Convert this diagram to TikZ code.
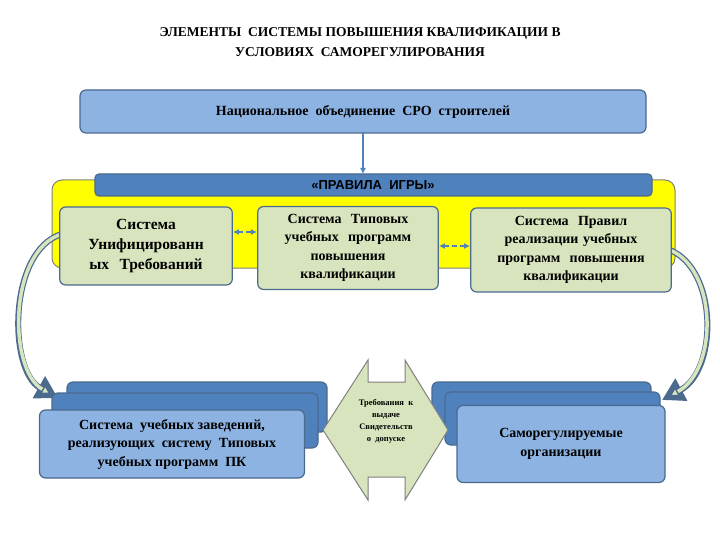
\documentclass[tikz,border=0pt]{standalone}
\usepackage{fontspec}
\setmainfont{Liberation Serif}
\newfontfamily\sansf{Liberation Sans}
\usetikzlibrary{arrows.meta}
\definecolor{lblue}{HTML}{8DB3E2}
\definecolor{dblue}{HTML}{4F81BD}
\definecolor{bord}{HTML}{4A6A8E}
\definecolor{gfill}{HTML}{D7E4BD}
\definecolor{yel}{HTML}{FFFF00}
\tikzset{
 gbox/.style={draw=bord,line width=1.2pt,fill=gfill,rounded corners=6pt,align=center,font=\bfseries\fontsize{14}{18.5}\selectfont},
 bbox/.style={draw=bord,line width=1.2pt,rounded corners=6pt},
 dashar/.style={dash pattern=on 5pt off 3pt,draw=dblue,line width=1.2pt,{Latex[length=6pt,width=6pt]}-{Latex[length=6pt,width=6pt]}},
}
\begin{document}
\begin{tikzpicture}[x=1pt,y=-1pt]
\useasboundingbox (0,0) rectangle (720,540);
\node[font=\bfseries\fontsize{13.5}{20}\selectfont,align=center] (title) at (360,42) {ЭЛЕМЕНТЫ\ \ СИСТЕМЫ ПОВЫШЕНИЯ КВАЛИФИКАЦИИ В\\УСЛОВИЯХ\ \ САМОРЕГУЛИРОВАНИЯ};
\draw[bbox,fill=lblue] (80,90) rectangle (646,133);
\node[font=\bfseries\fontsize{14}{16}\selectfont] (nat) at (363,112) {Национальное\ \ объединение\ \ СРО\ \ строителей};
\coordinate (natb) at (363,133);
\coordinate (barT) at (363,174);
\draw[draw=gray,line width=1pt,fill=yel,rounded corners=10pt] (52,180) rectangle (675,268);
\draw[bbox,fill=dblue,rounded corners=4pt] (95,174) rectangle (652,196);
\node[font=\sansf\bfseries\fontsize{13}{15}\selectfont] (rules) at (373,185) {«ПРАВИЛА\ \ ИГРЫ»};
\draw[dblue,line width=1.8pt,-{Latex[length=6pt,width=6pt]}] (natb) -- (barT);
% curved arrows
\draw[bord,line width=6pt,-{Triangle[length=22pt,width=24pt,fill=gfill]}] (62,234) .. controls (8,250) and (8,370) .. (58,398);
\draw[gfill,line width=3.5pt,shorten >=18pt] (62,234) .. controls (8,250) and (8,370) .. (58,398);
\draw[bord,line width=6pt,-{Triangle[length=22pt,width=24pt,fill=gfill]}] (670,250) .. controls (718,270) and (718,370) .. (662,400);
\draw[gfill,line width=3.5pt,shorten >=18pt] (670,250) .. controls (718,270) and (718,370) .. (662,400);
% green boxes
\node[gbox,minimum width=169pt,minimum height=78pt,text width=166pt,font=\bfseries\fontsize{15.5}{20}\selectfont] (g1) at (146,246) {Система\\Унифицированн\\ых\ \ Требований};
\node[gbox,minimum width=177pt,minimum height=83pt,text width=174pt] (g2) at (348,248) {Система\ \ Типовых\\учебных\ \ программ\\повышения\\квалификации};
\node[gbox,minimum width=197pt,minimum height=84pt,text width=194pt] (g3) at (571,250) {Система\ \ Правил\\реализации учебных\\программ\ \ повышения\\квалификации};
\draw[dashar] (g1.east |- 0,232) -- (g2.west |- 0,232);
\draw[dashar] (g2.east |- 0,246) -- (g3.west |- 0,246);
% left stack
\draw[bbox,fill=dblue] (67,382) rectangle (327,432);
\draw[bbox,fill=dblue] (52,393) rectangle (318,448);
\node[bbox,fill=lblue,minimum width=265pt,minimum height=68pt,align=center,font=\bfseries\fontsize{14}{18.5}\selectfont] (ls) at (172,444) {Система\ \ учебных заведений,\\реализующих\ \ систему\ \ Типовых\\учебных программ\ \ ПК};
% right stack
\draw[bbox,fill=dblue] (432,382) rectangle (651,432);
\draw[bbox,fill=dblue] (445,392) rectangle (660,445);
\node[bbox,fill=lblue,minimum width=208pt,minimum height=77pt,align=center,font=\bfseries\fontsize{14}{18.5}\selectfont] (rs) at (561,444) {Саморегулируемые\\организации};
% double arrow
\draw[draw=gray,line width=1pt,fill=gfill] (323,430) -- (368,360) -- (368,382) -- (405,382) -- (405,360) -- (448,430) -- (405,500) -- (405,477) -- (368,477) -- (368,500) -- cycle;
\node[font=\bfseries\fontsize{8.5}{12}\selectfont,align=center] (req) at (386,421) {Требования\ \ к\\выдаче\\Свидетельств\\о\ \ допуске};
\end{tikzpicture}
\end{document}
